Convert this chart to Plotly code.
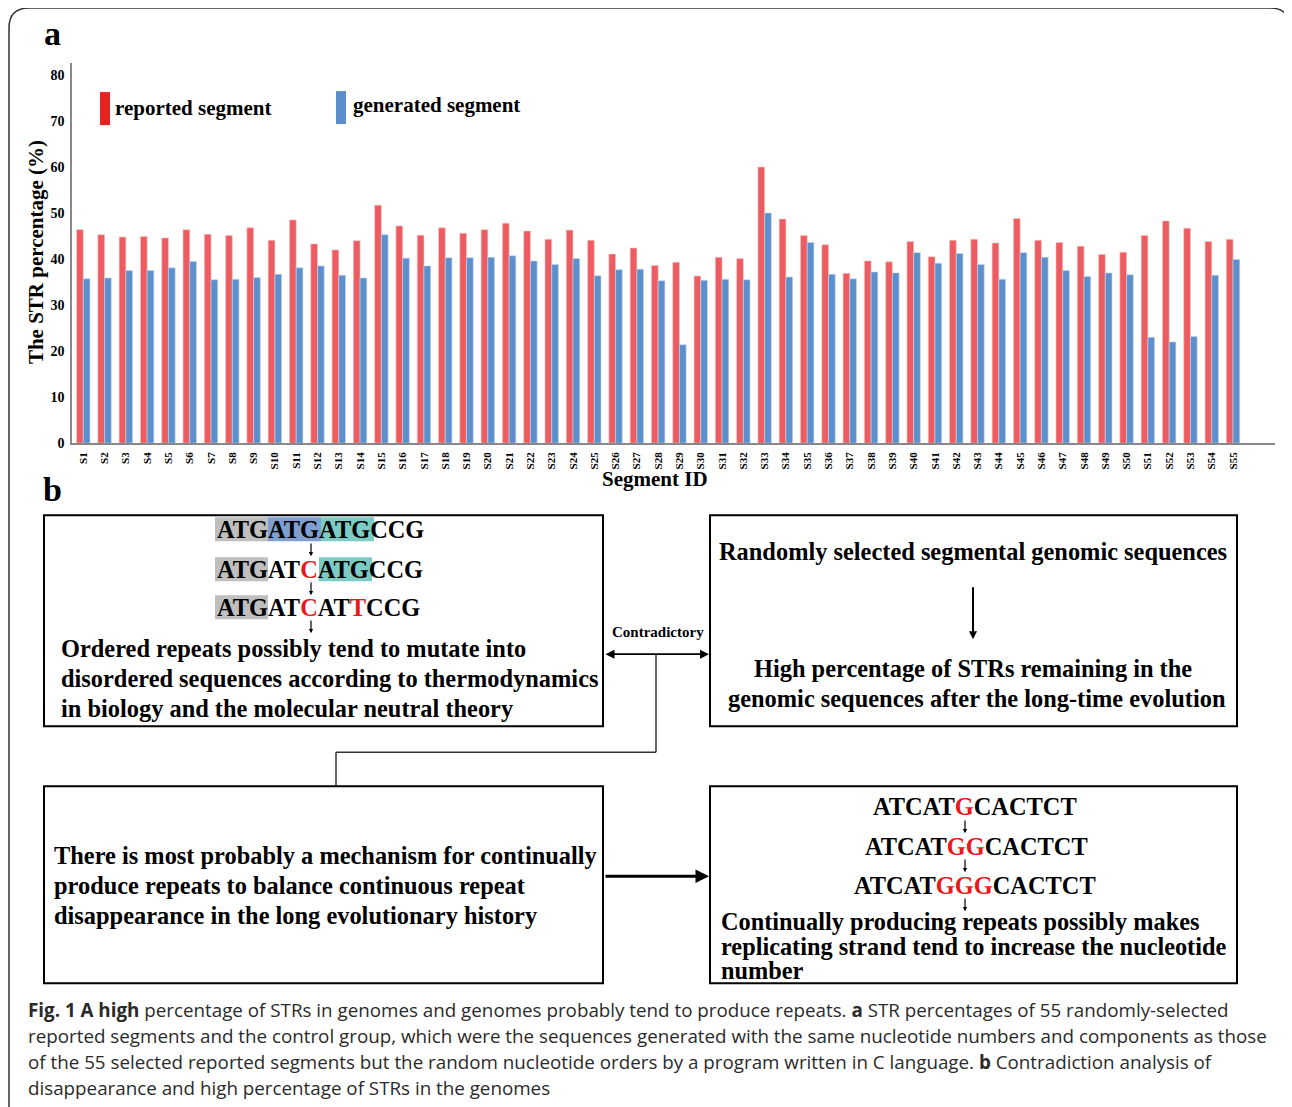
import plotly.graph_objects as go

W, H = 1292, 1107
OFF = 8  # page body margin of the html page
YS = 1.0075  # empirical vertical correction of the photographed page
FW, FH = W - OFF, H - OFF

segments = [f"S{i}" for i in range(1, 56)]
reported = [46.4, 45.3, 44.8, 44.9, 44.6, 46.4, 45.4, 45.1, 46.8, 44.1,
            48.5, 43.3, 42.0, 44.0, 51.7, 47.2, 45.2, 46.8, 45.6, 46.4,
            47.8, 46.1, 44.3, 46.3, 44.1, 41.1, 42.4, 38.6, 39.3, 36.3,
            40.4, 40.1, 60.0, 48.7, 45.1, 43.1, 36.9, 39.6, 39.4, 43.8,
            40.5, 44.1, 44.3, 43.5, 48.8, 44.1, 43.6, 42.8, 41.0, 41.5,
            45.1, 48.3, 46.7, 43.8, 44.3]
generated = [35.7, 35.9, 37.5, 37.5, 38.1, 39.5, 35.5, 35.6, 36.0, 36.7,
             38.1, 38.5, 36.5, 35.9, 45.3, 40.2, 38.5, 40.3, 40.3, 40.4,
             40.7, 39.6, 38.8, 40.1, 36.4, 37.7, 37.8, 35.3, 21.4, 35.4,
             35.6, 35.5, 50.0, 36.1, 43.6, 36.7, 35.7, 37.2, 37.0, 41.4,
             39.1, 41.2, 38.8, 35.6, 41.4, 40.4, 37.5, 36.2, 37.0, 36.6,
             23.0, 22.0, 23.2, 36.5, 39.9]
y_ticks = [0, 10, 20, 30, 40, 50, 60, 70, 80]

SERIF = "Liberation Serif"
SANS = "Open Sans"
RED_BAR = "#ed5c60"
BLUE_BAR = "#5d8fcc"


def px(x):
    return (x - OFF) / FW


def py(y):
    return 1 - (y * YS - OFF) / FH


fig = go.Figure()
fig.add_trace(go.Bar(x=segments, y=reported, name="reported segment",
                     marker=dict(color=RED_BAR, line=dict(color="#f8c4c4", width=0.6))))
fig.add_trace(go.Bar(x=segments, y=generated, name="generated segment",
                     marker=dict(color=BLUE_BAR, line=dict(color="#c4d6ee", width=0.6))))

annotations = []
shapes = []


def ann(x, y, text, size, anchor="center", color="black", family=SERIF, **kw):
    annotations.append(dict(x=px(x), y=py(y), xref="paper", yref="paper", text=text,
                            showarrow=False, xanchor=anchor, yanchor="middle",
                            font=dict(family=family, size=size, color=color), **kw))


def rect(x0, y0, x1, y1, line_color="black", width=2, fill=None):
    shapes.append(dict(type="rect", xref="paper", yref="paper",
                       x0=px(x0), x1=px(x1), y0=py(y0), y1=py(y1),
                       line=dict(color=line_color, width=width),
                       fillcolor=fill if fill else "rgba(0,0,0,0)", layer="below"))


def hl(x0, y0, x1, y1, fill):
    shapes.append(dict(type="rect", xref="paper", yref="paper",
                       x0=px(x0), x1=px(x1), y0=py(y0), y1=py(y1),
                       line=dict(width=0), fillcolor=fill, layer="below"))


def line(x0, y0, x1, y1, color="#333", width=1.5):
    shapes.append(dict(type="line", xref="paper", yref="paper",
                       x0=px(x0), x1=px(x1), y0=py(y0), y1=py(y1),
                       line=dict(color=color, width=width)))


def arrow(xt, yt, xs, ys, width=1.5, size=1.0, head=2, side="end", color="black"):
    annotations.append(dict(x=px(xt), y=py(yt), xref="paper", yref="paper",
                            ax=xs - xt, ay=(ys - yt) * YS, axref="pixel", ayref="pixel",
                            text="", showarrow=True, arrowhead=head, arrowsize=size,
                            arrowwidth=width, arrowcolor=color, arrowside=side,
                            startarrowhead=head, startarrowsize=size, standoff=0,
                            startstandoff=0))


# outer frame with rounded top corners
shapes.append(dict(type="path", xref="paper", yref="paper",
                   path=(f"M {px(9)},{py(1112)} L {px(9)},{py(28)} "
                         f"Q {px(9)},{py(8)} {px(29)},{py(8)} "
                         f"L {px(1270)},{py(8)} Q {px(1290)},{py(8)} {px(1290)},{py(28)} "
                         f"L {px(1290)},{py(1112)}"),
                   line=dict(color="#333", width=1.5)))

# panel labels
ann(53, 33, "<b>a</b>", 34)
ann(53, 489, "<b>b</b>", 34)

# axis titles
ann(36, 252, "<b>The STR percentage (%)</b>", 21, textangle=-90)
ann(655, 479, "<b>Segment ID</b>", 21)

# legend
hl(100, 92, 110, 125, "#e52421")
ann(113, 108, "<b>reported segment</b>", 21, anchor="left")
hl(336, 91, 346, 124, "#5b8fcc")
ann(351, 105, "<b>generated segment</b>", 21, anchor="left")

# ---- panel b ----
rect(44, 515, 603, 726)
rect(710, 515, 1237, 726)
rect(44, 786, 603, 983)
rect(710, 786, 1237, 983)

SEQ = 24.4
RED = "#e8191c"
# Box 1 sequences with highlights
hl(215, 517, 268, 541, "#bfbfbf")
hl(268, 517, 321, 541, "#7f9fd0")
hl(321, 517, 374, 541, "#7ccbc4")
ann(215, 529, "<b>ATGATGATGCCG</b>", SEQ, anchor="left")
hl(215, 557, 268, 581, "#bfbfbf")
hl(319, 557, 372, 581, "#7ccbc4")
ann(215, 569, f"<b>ATGAT<span style='color:{RED}'>C</span>ATGCCG</b>", SEQ, anchor="left")
hl(215, 595, 268, 619, "#bfbfbf")
ann(215, 607, f"<b>ATGAT<span style='color:{RED}'>C</span>AT<span style='color:{RED}'>T</span>CCG</b>",
    SEQ, anchor="left")
for ya in (556, 595, 633):
    arrow(311, ya, 311, ya - 14, width=1.2, size=0.7)

T = 24.4
ann(59, 648, "<b>Ordered repeats possibly tend to mutate into</b>", T, anchor="left")
ann(59, 678, "<b>disordered sequences according to thermodynamics</b>", T, anchor="left")
ann(59, 708, "<b>in biology and the molecular neutral theory</b>", T, anchor="left")

# Box 2
ann(973, 551, "<b>Randomly selected segmental genomic sequences</b>", T)
arrow(973, 639, 973, 586, width=2, size=0.8)
ann(973, 668, "<b>High percentage of STRs remaining in the</b>", T)
ann(977, 698, "<b>genomic sequences after the long-time evolution</b>", T)

# connectors
ann(658, 632, "<b>Contradictory</b>", 15)
arrow(709, 654, 604, 654, width=1.8, size=1.0, side="end+start")
line(656, 654, 656, 752)
line(656, 752, 336, 752)
line(336, 752, 336, 786)
arrow(709, 876, 604, 876, width=3, size=0.9)

# Box 3
ann(52, 855, "<b>There is most probably a mechanism for continually</b>", T, anchor="left")
ann(52, 885, "<b>produce repeats to balance continuous repeat</b>", T, anchor="left")
ann(52, 915, "<b>disappearance in the long evolutionary history</b>", T, anchor="left")

# Box 4
ann(975, 806, f"<b>ATCAT<span style='color:{RED}'>G</span>CACTCT</b>", SEQ)
ann(977, 846, f"<b>ATCAT<span style='color:{RED}'>GG</span>CACTCT</b>", SEQ)
ann(975, 885, f"<b>ATCAT<span style='color:{RED}'>GGG</span>CACTCT</b>", SEQ)
for ya in (833, 872, 911):
    arrow(965, ya, 965, ya - 14, width=1.2, size=0.7)
T4 = 24.3
ann(719, 921, "<b>Continually producing repeats possibly makes</b>", T4, anchor="left")
ann(719, 946, "<b>replicating strand tend to increase the nucleotide</b>", T4, anchor="left")
ann(719, 970, "<b>number</b>", T4, anchor="left")

# caption
CAP = 18.8
CC = "#2a2a2a"
ann(26, 1010, "<b>Fig. 1 A high</b> percentage of STRs in genomes and genomes probably tend to produce repeats. "
    "<b>a</b> STR percentages of 55 randomly-selected", CAP, anchor="left", color=CC, family=SANS)
ann(26, 1036, "reported segments and the control group, which were the sequences generated with the same "
    "nucleotide numbers and components as those", CAP, anchor="left", color=CC, family=SANS)
ann(26, 1062, "of the 55 selected reported segments but the random nucleotide orders by a program written in "
    "C language. <b>b</b> Contradiction analysis of", CAP, anchor="left", color=CC, family=SANS)
ann(26, 1088, "disappearance and high percentage of STRs in the genomes", CAP, anchor="left",
    color=CC, family=SANS)

fig.update_layout(
    width=FW, height=FH,
    margin=dict(l=0, r=0, t=0, b=0),
    paper_bgcolor="white", plot_bgcolor="white",
    barmode="group", bargap=0.37, bargroupgap=0.0,
    showlegend=False,
    xaxis=dict(domain=[px(72), px(1275)], range=[-0.53, 55.97],
               tickangle=-90, tickfont=dict(family=SERIF, size=11, color="black"),
               tickprefix="<b>", ticksuffix="</b>",
               showline=True, linecolor="#888", linewidth=1.5, showgrid=False,
               ticks="", ticklabelstandoff=3, anchor="y"),
    yaxis=dict(domain=[py(443), py(63)], range=[0, 82.6],
               tickvals=y_ticks, ticktext=[f"<b>{v}</b>" for v in y_ticks],
               tickfont=dict(family=SERIF, size=14, color="black"),
               showline=True, linecolor="#888", linewidth=1.5, showgrid=False,
               zeroline=False, ticks="", ticklabelstandoff=3, anchor="x"),
    annotations=annotations, shapes=shapes,
)

fig.write_html("out.html")
